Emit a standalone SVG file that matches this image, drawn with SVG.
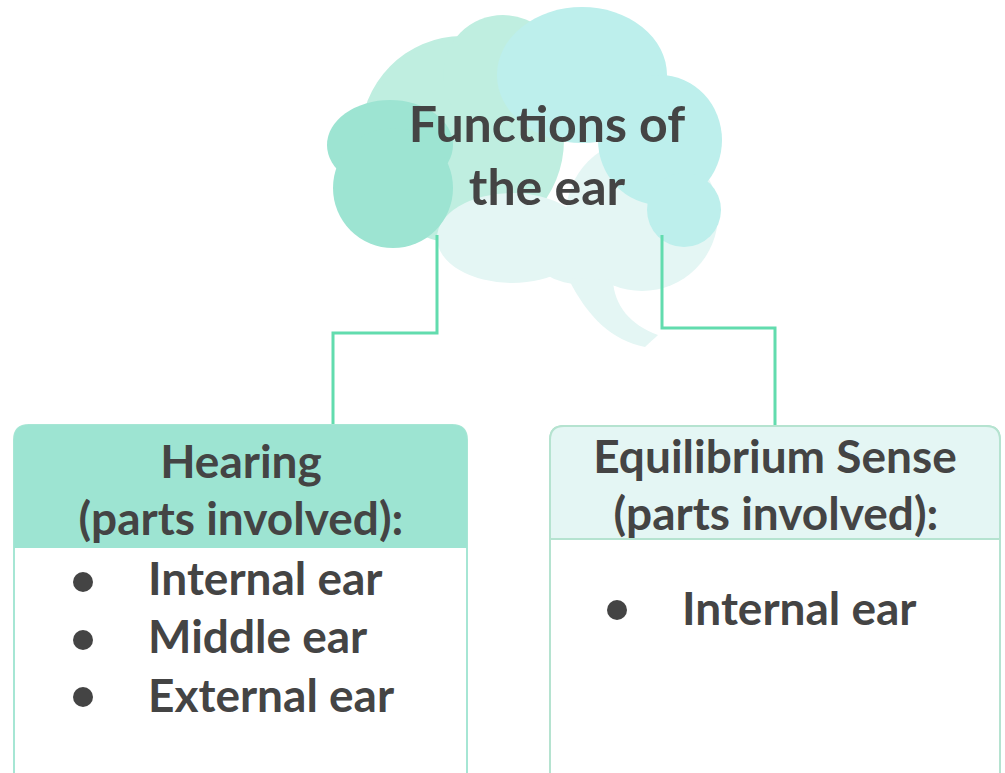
<svg xmlns="http://www.w3.org/2000/svg" width="1005" height="773" viewBox="0 0 1005 773">
<style>
.t{font-family:Lato,"Noto Sans","Liberation Sans",sans-serif;font-weight:bold;fill:#444444}
.title{font-size:50px}
.hd{font-size:46px}
.it{font-size:46px}
.conn{fill:none;stroke:#62dcae;stroke-width:3}
.bul{fill:#444444}
</style>
<rect width="1005" height="773" fill="#ffffff"/>
<g id="cloud">
  <g fill="#bfeee0">
    <ellipse cx="462" cy="140" rx="102" ry="104"/>
    <circle cx="503" cy="75" r="60"/>
  </g>
  <g fill="#e4f6f4">
    <ellipse cx="512" cy="238" rx="75" ry="45"/>
    <ellipse cx="585" cy="250" rx="55" ry="35"/>
    <circle cx="642" cy="215" r="76"/>
    <path d="M568 278 C588 318 612 340 645 347 C650 342 655 338 658 335 C630 325 614 305 613 280 Z"/>
  </g>
  <g fill="#bdefec">
    <ellipse cx="582" cy="75" rx="85" ry="68"/>
    <ellipse cx="660" cy="140" rx="62" ry="65"/>
    <circle cx="684" cy="210" r="37"/>
  </g>
  <g fill="#9de4d2">
    <ellipse cx="390" cy="145" rx="63" ry="45"/>
    <circle cx="393" cy="188" r="60"/>
  </g>
  <text class="t title" x="547" y="142" text-anchor="middle">Functions of</text>
  <text class="t title" x="547" y="205" text-anchor="middle">the ear</text>
</g>
<g id="connectors">
  <path class="conn" d="M437 235 V333 H333 V426"/>
  <path class="conn" d="M662 235 V328 H775 V426"/>
</g>
<g id="hearing">
  <path d="M14 780 V440 Q14 425 29 425 H452 Q467 425 467 440 V780" fill="#ffffff" stroke="#a6e6d4" stroke-width="2"/>
  <path d="M14 548 V440 Q14 425 29 425 H452 Q467 425 467 440 V548 Z" fill="#9de4d2"/>
  <text class="t hd" x="241" y="478" text-anchor="middle">Hearing</text>
  <text class="t hd" x="241" y="535" text-anchor="middle">(parts involved):</text>
  <circle class="bul" cx="83" cy="582" r="10"/>
  <circle class="bul" cx="83" cy="640" r="10"/>
  <circle class="bul" cx="83" cy="697" r="10"/>
  <text class="t it" x="148" y="595">Internal ear</text>
  <text class="t it" x="148" y="653">Middle ear</text>
  <text class="t it" x="148" y="712">External ear</text>
</g>
<g id="equilibrium">
  <path d="M550 780 V440 Q550 426 564 426 H986 Q1000 426 1000 440 V780" fill="#ffffff" stroke="#b5e3d0" stroke-width="2"/>
  <path d="M550 539 V440 Q550 426 564 426 H986 Q1000 426 1000 440 V539 Z" fill="#e4f6f4" stroke="#b5e3d0" stroke-width="2"/>
  <text class="t hd" x="775" y="473" text-anchor="middle">Equilibrium Sense</text>
  <text class="t hd" x="776" y="530" text-anchor="middle">(parts involved):</text>
  <circle class="bul" cx="617" cy="610" r="10"/>
  <text class="t it" x="682" y="625">Internal ear</text>
</g>
</svg>
